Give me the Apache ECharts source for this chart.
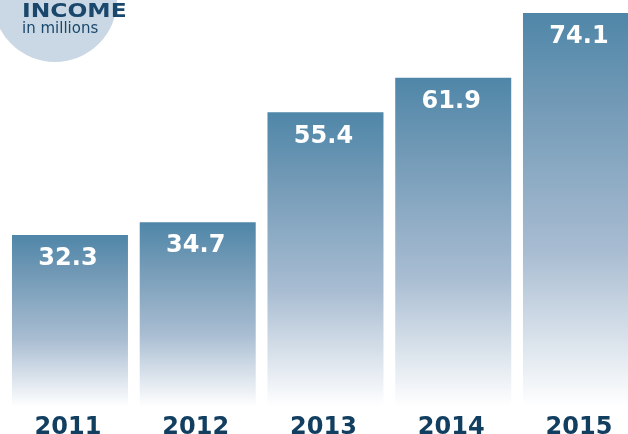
<!DOCTYPE html>
<html>
<head>
<meta charset="utf-8">
<script src="https://cdn.jsdelivr.net/npm/echarts@6/dist/echarts.min.js"></script>
<style>
html,body{margin:0;padding:0;background:#fff;}
#chart{width:628px;height:434px;}
</style>
</head>
<body>
<div id="chart"></div>
<script>
const categories = ['2011', '2012', '2013', '2014', '2015'];
const income = [32.3, 34.7, 55.4, 61.9, 74.1];
const titleText = 'INCOME';
const subtitleText = 'in millions';

const chart = echarts.init(document.getElementById('chart'), null, {renderer: 'canvas'});
const navy = '#123f60';
chart.setOption({
  animation: false,
  backgroundColor: '#ffffff',
  grid: {left: 6.1, top: 0, width: 638.75, bottom: 27.5, containLabel: false, outerBoundsMode: 'none'},
  xAxis: {
    type: 'category',
    data: categories,
    axisLine: {show: false},
    axisTick: {show: false},
    splitLine: {show: false},
    axisLabel: {
      color: navy,
      fontFamily: 'DejaVu Sans',
      fontWeight: 'bold',
      fontSize: 24,
      verticalAlign: 'middle',
      margin: 21,
      padding: [0, 4, 0, 0]
    }
  },
  yAxis: {type: 'value', min: 0, max: 76.54, show: false},
  graphic: [
    {type: 'circle', shape: {cx: 55, cy: 0, r: 62}, style: {fill: '#c9d8e4'}, z: 0, silent: true},
    {type: 'text', x: 22, y: 2, scaleX: 1.17, style: {text: titleText, fill: '#1a486c', font: 'bold 20px "DejaVu Sans"'}, z: 1},
    {type: 'text', x: 22, y: 22, style: {text: subtitleText, fill: '#1a486c', font: '15px "DejaVu Sans"'}, z: 1}
  ],
  series: [{
    type: 'bar',
    data: income,
    barWidth: 116,
    itemStyle: {
      color: new echarts.graphic.LinearGradient(0, 0, 0, 1, [
        {offset: 0, color: '#4f86a8'},
        {offset: 0.21, color: '#6f98b5'},
        {offset: 0.61, color: '#a9bdd2'},
        {offset: 1, color: '#ffffff'}
      ])
    },
    label: {
      show: true,
      position: ['50%', 24],
      align: 'center',
      verticalAlign: 'middle',
      offset: [-2, 0],
      color: '#ffffff',
      fontFamily: 'DejaVu Sans',
      fontWeight: 'bold',
      fontSize: 24,
      formatter: p => p.value.toFixed(1)
    }
  }]
});
</script>
</body>
</html>
